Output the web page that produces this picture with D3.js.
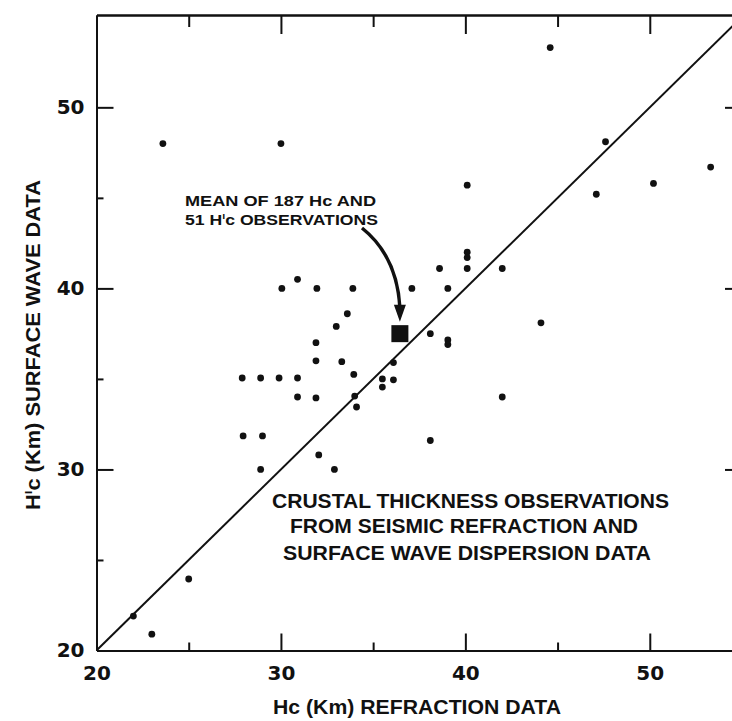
<!DOCTYPE html>
<meta charset="utf-8">
<html>

<head>
  <title>Crustal thickness</title>
  <style>
    body { margin: 0; background: #fff; }
    text { fill: #111; }
  </style>
</head>

<body>
  <!-- Load d3.js -->
  <script src="https://d3js.org/d3.v7.js"></script>

  <div id="my_dataviz"></div>

  <script>
    // refraction Hc (km) and surface wave H'c (km)
    var hcRefraction = [23.6, 30.0, 44.6, 47.6, 53.3, 50.2, 47.1, 40.1, 40.1, 40.1,
      38.6, 40.1, 42.0, 37.1, 39.05, 44.1, 38.1, 39.05, 39.05, 36.1,
      35.5, 35.5, 36.1, 42.0, 38.1, 34.1, 34.0, 30.05, 30.9, 31.95,
      33.9, 33.6, 33.0, 31.9, 31.9, 33.3, 33.95, 27.9, 28.9, 29.9,
      30.9, 30.9, 31.9, 27.95, 29.0, 32.05, 28.9, 32.9, 25.0, 22.0, 23.0];
    var hcSurfaceWave = [48.0, 48.0, 53.3, 48.1, 46.7, 45.8, 45.2, 45.7, 42.0, 41.7,
      41.1, 41.1, 41.1, 40.0, 40.0, 38.1, 37.5, 37.15, 36.9, 35.9,
      35.0, 34.55, 34.95, 34.0, 31.6, 33.45, 34.05, 40.0, 40.5, 40.0,
      40.0, 38.6, 37.9, 37.0, 36.0, 35.95, 35.25, 35.05, 35.05, 35.05,
      35.05, 34.0, 33.95, 31.85, 31.85, 30.8, 30.0, 30.0, 23.95, 21.9, 20.9];

    var meanPoint = [36.45, 37.5];   // mean of 187 Hc and 51 H'c
    var majorTicks = [30, 40, 50];
    var minorTicks = [25, 35, 45];
    var labelTicks = [20, 30, 40, 50];

    var data = hcRefraction.map(function (d, i) { return { x: d, y: hcSurfaceWave[i] }; });

    var width = 732, height = 721;
    var plotLeft = 96.5, plotRight = 742, plotTop = 15, plotBottom = 650.5;

    var svg = d3.select("#my_dataviz")
      .append("svg")
      .attr("width", width)
      .attr("height", height)
      .style("display", "block");

    var x = d3.scaleLinear().domain([20, 55]).range([plotLeft, plotRight]);
    var y = d3.scaleLinear().domain([20, 55.1]).range([plotBottom, plotTop]);

    var numFont = "'DejaVu Sans', sans-serif";
    var txtFont = "'Liberation Sans', Arial, sans-serif";

    // clip for the diagonal
    svg.append("clipPath").attr("id", "plotClip")
      .append("rect").attr("x", plotLeft).attr("y", plotTop)
      .attr("width", plotRight - plotLeft).attr("height", plotBottom - plotTop);

    // Hc = H'c line
    svg.append("line")
      .attr("clip-path", "url(#plotClip)")
      .attr("x1", x(20)).attr("y1", y(20))
      .attr("x2", x(56)).attr("y2", y(56))
      .attr("stroke", "#111").attr("stroke-width", 2);

    // axes (ticks point inwards)
    function styleAxis(g) {
      g.selectAll("path, line").attr("stroke", "#111").attr("stroke-width", 2);
      g.selectAll("text").attr("font-family", numFont).attr("font-weight", "bold")
        .attr("font-size", 20).attr("fill", "#111");
    }

    var xBottom = svg.append("g").attr("transform", "translate(0," + plotBottom + ")")
      .call(d3.axisBottom(x).tickValues(labelTicks).tickSizeInner(-17).tickSizeOuter(0).tickPadding(15).tickFormat(d3.format("d")))
      .call(styleAxis);
    xBottom.selectAll(".tick").filter(function (d) { return d == 20; }).select("line").remove();
    svg.append("g").attr("transform", "translate(0," + plotBottom + ")")
      .call(d3.axisBottom(x).tickValues(minorTicks).tickSizeInner(-8).tickSizeOuter(0).tickFormat(""))
      .call(styleAxis);

    var yLeft = svg.append("g").attr("transform", "translate(" + plotLeft + ",0)")
      .call(d3.axisLeft(y).tickValues(labelTicks).tickSizeInner(-17).tickSizeOuter(0).tickPadding(12).tickFormat(d3.format("d")))
      .call(styleAxis);
    yLeft.selectAll(".tick").filter(function (d) { return d == 20; }).select("line").remove();
    svg.append("g").attr("transform", "translate(" + plotLeft + ",0)")
      .call(d3.axisLeft(y).tickValues(minorTicks).tickSizeInner(-7).tickSizeOuter(0).tickFormat(""))
      .call(styleAxis);

    svg.append("g").attr("transform", "translate(0," + plotTop + ")")
      .call(d3.axisTop(x).tickValues(majorTicks).tickSizeInner(-19).tickSizeOuter(0).tickFormat(""))
      .call(styleAxis);
    svg.append("g").attr("transform", "translate(0," + plotTop + ")")
      .call(d3.axisTop(x).tickValues(minorTicks).tickSizeInner(-12).tickSizeOuter(0).tickFormat(""))
      .call(styleAxis);

    svg.append("g").attr("transform", "translate(" + plotRight + ",0)")
      .call(d3.axisRight(y).tickValues(majorTicks).tickSizeInner(-17).tickSizeOuter(0).tickFormat(""))
      .call(styleAxis);

    // observations
    svg.append("g").selectAll("circle")
      .data(data)
      .enter()
      .append("circle")
      .attr("cx", function (d) { return x(d.x); })
      .attr("cy", function (d) { return y(d.y); })
      .attr("r", 3.4)
      .attr("fill", "#111");

    // mean marker
    svg.append("rect")
      .attr("x", x(meanPoint[0]) - 8.5)
      .attr("y", y(meanPoint[1]) - 8.5)
      .attr("width", 17).attr("height", 17)
      .attr("fill", "#111");

    // arrow to the mean
    var tipY = y(meanPoint[1]) - 12, tipX = x(meanPoint[0]);
    svg.append("path")
      .attr("d", "M362,228 Q397,256 " + tipX + "," + (tipY - 14))
      .attr("fill", "none").attr("stroke", "#111").attr("stroke-width", 3.5);
    svg.append("path")
      .attr("d", "M" + (tipX - 6) + "," + (tipY - 17) + "L" + (tipX + 6) + "," + (tipY - 17) + "L" + tipX + "," + tipY + "Z")
      .attr("fill", "#111");

    // text helper, H with a prime mark then c
    function hPrime(t, before, after, size) {
      t.append("tspan").text(before + "H");
      t.append("tspan").attr("dy", -size * 0.4).attr("font-size", size * 0.6).text("ı");
      t.append("tspan").attr("dy", size * 0.4).text("c" + after);
    }

    svg.append("text")
      .attr("x", 185).attr("y", 206)
      .attr("font-family", txtFont).attr("font-weight", "bold").attr("font-size", 15)
      .attr("textLength", 191).attr("lengthAdjust", "spacingAndGlyphs")
      .text("MEAN OF 187 Hc AND");
    var t2 = svg.append("text")
      .attr("x", 185).attr("y", 225)
      .attr("font-family", txtFont).attr("font-weight", "bold").attr("font-size", 15)
      .attr("textLength", 193).attr("lengthAdjust", "spacingAndGlyphs");
    hPrime(t2, "51 ", " OBSERVATIONS", 15);

    var noteLines = [
      { s: "CRUSTAL THICKNESS OBSERVATIONS", x: 272, y: 508, w: 397 },
      { s: "FROM SEISMIC REFRACTION AND", x: 290, y: 533, w: 348 },
      { s: "SURFACE WAVE DISPERSION DATA", x: 283, y: 560, w: 368 }
    ];
    svg.append("g").selectAll("text")
      .data(noteLines)
      .enter()
      .append("text")
      .attr("x", function (d) { return d.x; })
      .attr("y", function (d) { return d.y; })
      .attr("font-family", txtFont).attr("font-weight", "bold").attr("font-size", 21)
      .attr("textLength", function (d) { return d.w; })
      .attr("lengthAdjust", "spacingAndGlyphs")
      .text(function (d) { return d.s; });

    // axis titles
    svg.append("text")
      .attr("x", 273).attr("y", 714)
      .attr("font-family", txtFont).attr("font-weight", "bold").attr("font-size", 20)
      .attr("textLength", 288).attr("lengthAdjust", "spacingAndGlyphs")
      .text("Hc (Km) REFRACTION DATA");

    var yt = svg.append("text")
      .attr("transform", "translate(40,510) rotate(-90)")
      .attr("font-family", txtFont).attr("font-weight", "bold").attr("font-size", 21)
      .attr("textLength", 330).attr("lengthAdjust", "spacingAndGlyphs");
    hPrime(yt, "", " (Km) SURFACE WAVE DATA", 21);
  </script>
</body>

</html>
